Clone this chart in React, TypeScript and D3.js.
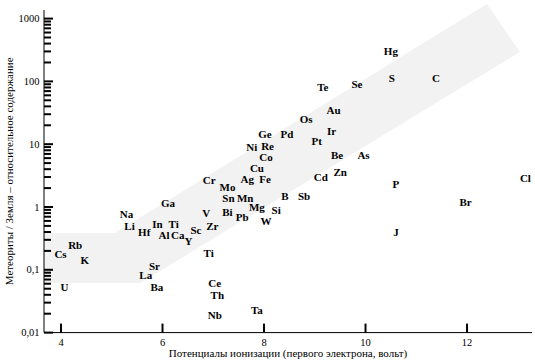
import React from 'react';
import * as d3 from 'd3';

// ionization potential (eV) vs meteorite / Earth relative abundance
const symbols = [
  'Hg', 'S', 'C', 'Se', 'Te', 'Au', 'Os', 'Ir', 'Pd', 'Ge', 'Pt', 'Ni', 'Re', 'Co',
  'Be', 'As', 'Cu', 'Zn', 'Cd', 'Ag', 'Fe', 'Cr', 'Mo', 'P', 'Cl', 'Sn', 'Mn', 'B',
  'Sb', 'Br', 'Ga', 'Mg', 'Si', 'V', 'Bi', 'Pb', 'W', 'Na', 'In', 'Ti', 'Li', 'Hf',
  'Sc', 'Zr', 'Al', 'Ca', 'Y', 'J', 'Ti', 'Rb', 'Cs', 'K', 'Sr', 'La', 'Ba', 'U',
  'Ce', 'Th', 'Nb', 'Ta'
];
const potentials = [
  10.50, 10.52, 11.39, 9.83, 9.16, 9.37, 8.83, 9.33, 8.45, 8.02, 9.04, 7.76, 8.07, 8.04,
  9.44, 9.96, 7.86, 9.50, 9.12, 7.67, 8.02, 6.92, 7.28, 10.60, 13.15, 7.30, 7.63, 8.41,
  8.79, 11.97, 6.11, 7.86, 8.24, 6.86, 7.28, 7.57, 8.04, 5.29, 5.90, 6.22, 5.35, 5.64,
  6.66, 6.98, 6.03, 6.30, 6.51, 10.60, 6.91, 4.28, 3.99, 4.47, 5.84, 5.67, 5.89, 4.07,
  7.03, 7.08, 7.03, 7.86
];
const ratios = [
  308, 112, 115, 91, 82, 35, 24.7, 16.4, 14.4, 14.4, 11.2, 8.9, 9.5, 6.3,
  6.7, 6.6, 4.2, 3.57, 2.95, 2.76, 2.82, 2.66, 2.05, 2.35, 2.84, 1.4, 1.41, 1.51,
  1.51, 1.19, 1.14, 0.99, 0.9, 0.81, 0.84, 0.7, 0.605, 0.765, 0.54, 0.53, 0.498, 0.395,
  0.422, 0.493, 0.358, 0.362, 0.287, 0.404, 0.187, 0.245, 0.175, 0.143, 0.114, 0.0815, 0.0538, 0.0523,
  0.061, 0.0397, 0.019, 0.0229
];

// shaded trend band, in data units
const bandX = [3.665, 5.06, 12.39, 13.04, 5.56, 3.665];
const bandY = [0.385, 0.385, 1700, 294, 0.0616, 0.0616];

const xTicks = [4, 6, 8, 10, 12];
const yLabels = ['0,01', '0,1', '1', '10', '100', '1000'];
const xDomain = [3.665, 13.28];
const yDomain = [0.01, 1370];

const xTitle = 'Потенциалы ионизации (первого электрона, вольт)';
const yTitle = 'Метеориты / Земля – относительное содержание';

export default function App() {
  const width = 535, height = 363;
  const x = d3.scaleLinear().domain(xDomain).range([44, 532]);
  const y = d3.scaleLog().domain(yDomain).range([332.6, 10]);

  const band = d3.line<number>()
    .x(i => x(bandX[i]))
    .y(i => y(bandY[i]))
    .curve(d3.curveLinearClosed)(d3.range(bandX.length));

  const yTicks = y.ticks();
  const font = '"Liberation Serif", "DejaVu Serif", serif';
  const x0 = x(xDomain[0]), x1 = x(xDomain[1]);
  const y0 = y(yDomain[0]), y1 = y(yDomain[1]);

  return (
    <svg width={width} height={height} style={{position: 'absolute', left: 0, top: 0}}
      fontFamily={font}>
      <rect width={width} height={height} fill="#fff" />
      <path d={band || ''} fill="#f2f2f2" />

      {/* axes */}
      <line x1={x0} x2={x1} y1={y0} y2={y0} stroke="#000" strokeWidth={1} />
      <line x1={x0} x2={x0} y1={y0} y2={y1} stroke="#000" strokeWidth={1} />

      {yTicks.map((t, i) => {
        const major = Math.abs(Math.log10(t) - Math.round(Math.log10(t))) < 1e-6;
        return (
          <line key={'yt' + i} x1={x0} x2={x0 + (major ? 9 : 7)} y1={y(t)} y2={y(t)}
            stroke="#000" strokeWidth={2} />
        );
      })}
      {yLabels.map((l, i) => (
        <text key={'yl' + i} x={39.5} y={y(Math.pow(10, i - 2))} dy="0.35em"
          textAnchor="end" fontSize={10.5}>{l}</text>
      ))}

      {xTicks.map(t => (
        <g key={'xt' + t}>
          <line x1={x(t)} x2={x(t)} y1={y0} y2={y0 - 9} stroke="#000" strokeWidth={2} />
          <text x={x(t)} y={y0 + 13.5} textAnchor="middle" fontSize={10.5}>{t}</text>
        </g>
      ))}

      <text x={(x0 + x1) / 2} y={357} textAnchor="middle" fontSize={11}>{xTitle}</text>
      <text transform={`translate(13,${(y0 + y1) / 2}) rotate(-90)`} textAnchor="middle"
        fontSize={11}>{yTitle}</text>

      {symbols.map((s, i) => (
        <text key={'el' + i} x={x(potentials[i])} y={y(ratios[i])} dy="0.36em"
          textAnchor="middle" fontSize={11} fontWeight="bold">{s}</text>
      ))}
    </svg>
  );
}
